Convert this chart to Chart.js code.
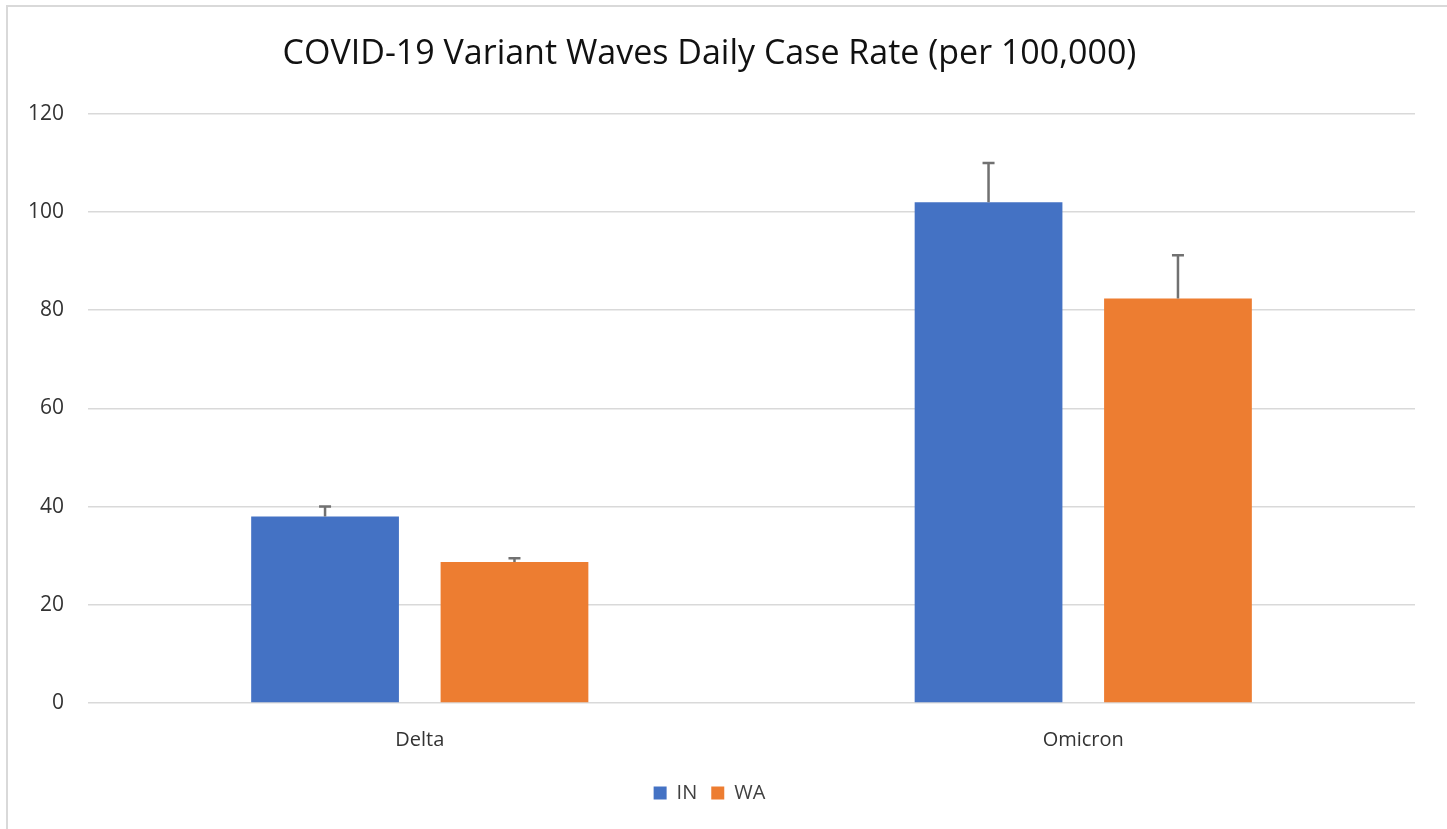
<!DOCTYPE html>
<html>
<head>
<meta charset="utf-8">
<script src="https://cdn.jsdelivr.net/npm/chart.js@4/dist/chart.umd.min.js"></script>
<style>
  html, body { margin: 0; padding: 0; background: #fff; }
  #frame { position: absolute; left: 6px; top: 5px; width: 1441px; height: 824px;
           border-top: 2px solid #d9d9d9; border-left: 2px solid #d9d9d9; box-sizing: border-box; }
  #wrap { position: absolute; left: 0; top: 0; width: 1447px; height: 829px; }
</style>
</head>
<body>
<div id="frame"></div>
<div id="wrap"><canvas id="c" width="1447" height="829"></canvas></div>
<script>
const categories = ['Delta', 'Omicron'];
const seriesNames = ['IN', 'WA'];
const inValues = [38, 102];
const waValues = [28.7, 82.4];
const inErrors = [2, 8];
const waErrors = [0.8, 8.8];
const yTicks = [0, 20, 40, 60, 80, 100, 120];

const errorBarPlugin = {
  id: 'errorBars',
  afterDatasetsDraw(chart) {
    const ctx = chart.ctx;
    const y = chart.scales.y;
    chart.data.datasets.forEach((ds, di) => {
      const meta = chart.getDatasetMeta(di);
      meta.data.forEach((bar, i) => {
        const top = y.getPixelForValue(ds.data[i] + ds.errors[i]);
        ctx.save();
        ctx.strokeStyle = '#717171';
        ctx.lineWidth = 2.5;
        ctx.beginPath();
        ctx.moveTo(bar.x, bar.y);
        ctx.lineTo(bar.x, top);
        ctx.moveTo(bar.x - 6, top);
        ctx.lineTo(bar.x + 6, top);
        ctx.stroke();
        ctx.restore();
      });
    });
  }
};

const font = "'Open Sans', 'Liberation Sans', sans-serif";

new Chart(document.getElementById('c'), {
  type: 'bar',
  data: {
    labels: categories,
    datasets: [
      { label: seriesNames[0], data: inValues, errors: inErrors, backgroundColor: '#4472c4' },
      { label: seriesNames[1], data: waValues, errors: waErrors, backgroundColor: '#ed7d31' }
    ]
  },
  options: {
    responsive: false,
    animation: false,
    categoryPercentage: 0.571,
    barPercentage: 0.78,
    layout: { padding: { left: 4, right: 32, top: 20, bottom: 16 } },
    plugins: {
      title: {
        display: true,
        text: 'COVID-19 Variant Waves Daily Case Rate (per 100,000)',
        color: '#111111',
        font: { family: font, size: 34, weight: 'normal' },
        padding: { top: 14, bottom: 39 }
      },
      legend: {
        position: 'bottom',
        labels: {
          color: '#404040',
          font: { family: font, size: 20 },
          boxWidth: 13, boxHeight: 13,
          padding: 14
        }
      },
      tooltip: { enabled: false }
    },
    scales: {
      x: {
        grid: { display: false },
        border: { display: false },
        ticks: { color: '#333333', font: { family: font, size: 20 }, padding: 17 }
      },
      y: {
        min: 0, max: 120,
        afterBuildTicks(scale) { scale.ticks = yTicks.map(v => ({ value: v })); },
        grid: { color: '#d9d9d9', lineWidth: 1.5, drawTicks: false },
        border: { display: false },
        ticks: { color: '#333333', font: { family: font, size: 21 }, padding: 24 }
      }
    }
  },
  plugins: [errorBarPlugin]
});
</script>
</body>
</html>
